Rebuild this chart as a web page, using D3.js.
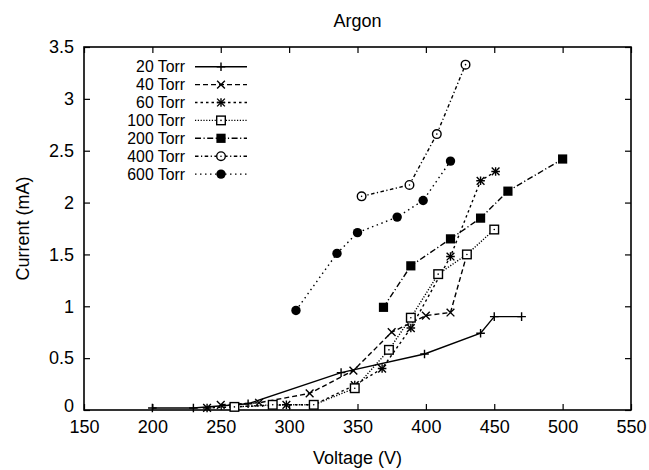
<!DOCTYPE html>
<html>
<head>
<meta charset="utf-8">
<script src="https://cdn.jsdelivr.net/npm/d3@7"></script>
<style>
  html, body { margin: 0; padding: 0; background: #fff; }
  svg { display: block; }
  text { font-family: "Liberation Sans", Arial, Helvetica, sans-serif; fill: #000; }
</style>
</head>
<body>
<svg id="chart" width="649" height="470"></svg>
<script>
// ---- data ----
const seriesNames = ["20 Torr", "40 Torr", "60 Torr", "100 Torr", "200 Torr", "400 Torr", "600 Torr"];
const voltage20  = [200, 230, 270, 338, 399, 440, 450, 470];
const current20  = [0.02, 0.02, 0.06, 0.36, 0.54, 0.74, 0.90, 0.90];
const voltage40  = [250, 278, 315, 347, 375, 400, 418, 430];
const current40  = [0.05, 0.07, 0.16, 0.38, 0.75, 0.91, 0.94, 1.50];
const voltage60  = [240, 298, 318, 348, 368, 389, 418, 440, 451];
const current60  = [0.02, 0.05, 0.05, 0.24, 0.40, 0.79, 1.48, 2.21, 2.30];
const voltage100 = [260, 288, 318, 348, 373, 389, 409, 430, 450];
const current100 = [0.03, 0.05, 0.05, 0.21, 0.58, 0.89, 1.31, 1.50, 1.74];
const voltage200 = [369, 389, 418, 440, 460, 500];
const current200 = [0.99, 1.39, 1.65, 1.85, 2.11, 2.42];
const voltage400 = [353, 388, 408, 429];
const current400 = [2.06, 2.17, 2.66, 3.33];
const voltage600 = [305, 335, 350, 379, 398, 418];
const current600 = [0.96, 1.51, 1.71, 1.86, 2.02, 2.40];
const xTicks = [150, 200, 250, 300, 350, 400, 450, 500, 550];
const yTicks = [0, 0.5, 1, 1.5, 2, 2.5, 3, 3.5];

const voltages = [voltage20, voltage40, voltage60, voltage100, voltage200, voltage400, voltage600];
const currents = [current20, current40, current60, current100, current200, current400, current600];

// ---- styles ----
const dashes  = [null, "5,3", "2.5,3", "1.2,1.6", "6,2.5,1.2,2.5", "3.5,2.5,1.2,2.5", "1.5,3.5"];
const markers = ["plus", "cross", "star", "square", "fsquare", "circle", "fcircle"];

const svg = d3.select("#chart");
const pL = 84, pR = 631, pT = 47, pB = 410;
const x = d3.scaleLinear().domain([150, 550]).range([pL, pR]);
const y = d3.scaleLinear().domain([0, 3.5]).range([pB, pT]);

// frame
svg.append("rect").attr("x", pL).attr("y", pT)
  .attr("width", pR - pL).attr("height", pB - pT)
  .attr("fill", "none").attr("stroke", "#000").attr("stroke-width", 1.6);

// axes (ticks inward, mirrored)
const fs = "18px";
const ax = svg.append("g").attr("transform", `translate(0,${pB})`)
  .call(d3.axisBottom(x).tickValues(xTicks).tickSizeInner(-6).tickSizeOuter(0).tickPadding(10).tickFormat(d3.format("d")));
const axTop = svg.append("g").attr("transform", `translate(0,${pT})`)
  .call(d3.axisTop(x).tickValues(xTicks).tickSizeInner(-6).tickSizeOuter(0).tickFormat(""));
const ay = svg.append("g").attr("transform", `translate(${pL},0)`)
  .call(d3.axisLeft(y).tickValues(yTicks).tickSizeInner(-6).tickSizeOuter(0).tickPadding(10).tickFormat(d => String(d)));
const ayR = svg.append("g").attr("transform", `translate(${pR},0)`)
  .call(d3.axisRight(y).tickValues(yTicks).tickSizeInner(-6).tickSizeOuter(0).tickFormat(""));
[ax, axTop, ay, ayR].forEach(g => {
  g.select(".domain").remove();
  g.selectAll("line").attr("stroke", "#000").attr("stroke-width", 1.2);
  g.selectAll("text").style("font-size", fs).attr("font-family", null);
});
// lift the "0" label slightly so it clears the "150" label below it
ay.selectAll(".tick").filter(d => d === 0).select("text").attr("y", -4);

// titles
svg.append("text").attr("x", (pL + pR) / 2).attr("y", 27).attr("text-anchor", "middle")
  .style("font-size", fs).text("Argon");
svg.append("text").attr("x", (pL + pR) / 2).attr("y", 464).attr("text-anchor", "middle")
  .style("font-size", fs).text("Voltage (V)");
svg.append("text").attr("transform", `translate(29,${(pT + pB) / 2}) rotate(-90)`)
  .attr("text-anchor", "middle").style("font-size", fs).text("Current (mA)");

// marker drawer
function drawMarker(g, type, cx, cy) {
  const r = 4.3, sw = 1.4;
  const m = g.append("g").attr("transform", `translate(${cx},${cy})`);
  if (type === "plus" || type === "star") {
    m.append("path").attr("d", `M${-r},0H${r}M0,${-r}V${r}`).attr("stroke", "#000").attr("stroke-width", sw);
  }
  if (type === "cross" || type === "star") {
    const k = r * 0.9;
    m.append("path").attr("d", `M${-k},${-k}L${k},${k}M${-k},${k}L${k},${-k}`).attr("stroke", "#000").attr("stroke-width", sw);
  }
  if (type === "square") {
    m.append("rect").attr("x", -r).attr("y", -r).attr("width", 2 * r).attr("height", 2 * r)
      .attr("fill", "#fff").attr("stroke", "#000").attr("stroke-width", sw);
    m.append("circle").attr("r", 0.8).attr("fill", "#000");
  }
  if (type === "fsquare") {
    m.append("rect").attr("x", -r - 0.3).attr("y", -r - 0.3).attr("width", 2 * r + 0.6).attr("height", 2 * r + 0.6).attr("fill", "#000");
  }
  if (type === "circle") {
    m.append("circle").attr("r", r).attr("fill", "#fff").attr("stroke", "#000").attr("stroke-width", sw);
    m.append("circle").attr("r", 0.8).attr("fill", "#000");
  }
  if (type === "fcircle") {
    m.append("circle").attr("r", r + 0.4).attr("fill", "#000");
  }
}

// series
const lineGen = d3.line().x(d => x(d[0])).y(d => y(d[1]));
const plot = svg.append("g");
seriesNames.forEach((name, i) => {
  const pts = voltages[i].map((v, j) => [v, currents[i][j]]);
  plot.append("path").datum(pts).attr("d", lineGen)
    .attr("fill", "none").attr("stroke", "#000").attr("stroke-width", 1.4)
    .attr("stroke-dasharray", dashes[i]);
});
seriesNames.forEach((name, i) => {
  voltages[i].forEach((v, j) => drawMarker(plot, markers[i], x(v), y(currents[i][j])));
});

// legend
const lg = svg.append("g");
seriesNames.forEach((name, i) => {
  const ly = 66.7 + i * 17.9;
  lg.append("text").attr("x", 185).attr("y", ly + 5.5).attr("text-anchor", "end")
    .style("font-size", "15.8px").text(name);
  lg.append("line").attr("x1", 195).attr("x2", 247).attr("y1", ly).attr("y2", ly)
    .attr("stroke", "#000").attr("stroke-width", 1.4).attr("stroke-dasharray", dashes[i]);
  drawMarker(lg, markers[i], 221, ly);
});
</script>
</body>
</html>
